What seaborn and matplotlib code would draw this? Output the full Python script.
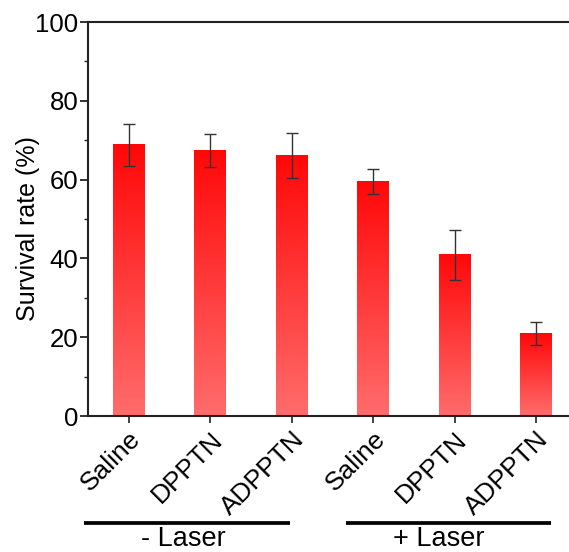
import numpy as np
import pandas as pd
import matplotlib
matplotlib.use("Agg")
import matplotlib.pyplot as plt
import seaborn as sns
from matplotlib.colors import LinearSegmentedColormap
from matplotlib.ticker import MultipleLocator
import matplotlib.transforms as mtransforms

# ---- data ----
categories = ["Saline", "DPPTN", "ADPPTN", "Saline ", "DPPTN ", "ADPPTN "]
tick_labels = ["Saline", "DPPTN", "ADPPTN", "Saline", "DPPTN", "ADPPTN"]
survival = [68.8, 67.3, 66.2, 59.5, 40.9, 20.9]
errors = [5.3, 4.2, 5.7, 3.2, 6.3, 3.0]
group_names = ["- Laser", "+ Laser"]
y_ticks = [0, 20, 40, 60, 80, 100]

sns.set_theme(style="ticks")
plt.rcParams["font.family"] = ["Liberation Sans", "DejaVu Sans"]

fig = plt.figure(figsize=(5.69, 5.52), dpi=100)
ax = fig.add_axes([88 / 569, 136 / 552, 1 - 88 / 569, 394 / 552])

df = pd.DataFrame({"cat": categories, "val": survival})
sns.barplot(data=df, x="cat", y="val", order=categories, color="#ff3030",
            width=0.39, ax=ax, errorbar=None, saturation=1)

# gradient fill for each bar
cmap = LinearSegmentedColormap.from_list("redgrad", ["#ff6c6c", "#ff0808"])
grad = np.linspace(0, 1, 256).reshape(-1, 1)
for p in ax.patches:
    x0, y0 = p.get_x(), p.get_y()
    w, h = p.get_width(), p.get_height()
    p.set_facecolor("none")
    p.set_edgecolor("none")
    ax.imshow(grad, cmap=cmap, aspect="auto", origin="lower",
              extent=[x0, x0 + w, y0, y0 + h], zorder=2)

xpos = np.arange(len(categories))
ax.errorbar(xpos, survival, yerr=errors, fmt="none", ecolor="#333333",
            elinewidth=1.0, capsize=4, capthick=1.0, zorder=3)

ax.set_xlim(-0.5, 5.4)
ax.set_ylim(0, 100)
ax.set_yticks(y_ticks)
ax.yaxis.set_minor_locator(MultipleLocator(10))
ax.set_xticks(xpos)
ax.set_xticklabels(tick_labels, rotation=45, ha="right", rotation_mode="anchor",
                   fontsize=19, color="black")
ax.tick_params(axis="y", which="major", length=6, width=1.3, labelsize=18.5,
               colors="#222222", labelcolor="black", pad=1)
ax.tick_params(axis="y", which="minor", length=3, width=1.0, colors="#222222")
ax.tick_params(axis="x", which="major", length=5, width=1.2, colors="#222222",
               labelcolor="black", pad=3)
ax.set_xlabel("")
ax.set_ylabel("Survival rate (%)", fontsize=18, color="black")
ax.yaxis.set_label_coords(-0.100, 0.475)

for side in ["left", "bottom", "top"]:
    ax.spines[side].set_linewidth(1.5)
    ax.spines[side].set_color("#222222")
ax.spines["right"].set_visible(False)

# group lines and labels
trans = mtransforms.blended_transform_factory(ax.transData, ax.transAxes)
group_spans = [(-0.545, 1.975), (2.67, 5.18)]
group_text_x = [0.67, 3.80]
for (a, b), tx, name in zip(group_spans, group_text_x, group_names):
    ax.plot([a, b], [-0.272, -0.272], transform=trans, color="black",
            linewidth=2.7, clip_on=False, solid_capstyle="butt")
    ax.text(tx, -0.311, name, transform=trans, ha="center", va="center",
            fontsize=19.5, color="black")

fig.savefig("out.png", dpi=100)
